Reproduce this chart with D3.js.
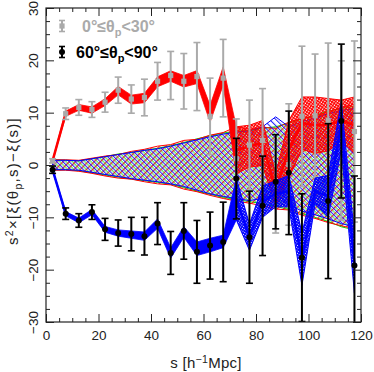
<!DOCTYPE html>
<html><head><meta charset="utf-8">
<script src="https://cdn.jsdelivr.net/npm/d3@7"></script>
<style>body{margin:0;background:#fff}svg{display:block}</style>
</head><body>
<script>
// ---- data ----
const sBins = [2.5,7.5,12.5,17.5,22.5,27.5,32.5,37.5,42.5,47.5,52.5,57.5,62.5,67.5,72.5,77.5,82.5,87.5,92.5,97.5,102.5,107.5,112.5,117.5];
// 0°≤θp<30° measurements (gray)
const grayY   = [0.8,9.8,11.0,10.6,12.0,14.3,12.6,12.9,16.0,17.1,16.0,16.9,9.3,16.6,1.2,3.8,4.7,-4.1,0.1,9.3,9.4,8.5,4.7,6.4];
const grayErr = [0.4,1.1,1.5,1.5,1.9,2.5,2.7,3.5,3.6,4.6,5.3,6.5,7.3,7.4,7.6,8.6,9.9,8.9,11.6,13.4,11.8,14.8,15.2,17.3];
// 60°≤θp<90° measurements (black)
const blackY   = [-0.9,-9.3,-10.6,-9.0,-12.3,-13.0,-13.2,-13.6,-11.2,-16.8,-12.6,-16.6,-15.4,-14.7,-2.6,-13.8,-7.8,-3.2,-1.5,-17.7,null,-6.9,8.4,-19.2];
const blackErr = [0.7,1.1,1.3,1.4,2.1,2.5,3.2,3.6,4.0,4.1,5.4,6.0,6.4,7.6,7.7,8.8,9.5,9.0,11.8,12.2,null,14.8,14.7,17.1];
// model bands (red: 0-30°, blue: 60-90°)
const redMid  = [0.8,9.8,11.0,10.5,12.0,14.2,12.5,12.8,15.9,17.0,16.0,16.8,9.8,17.0,2.8,3.6,4.2,-4.8,3.0,8.0,7.6,7.7,8.5,7.6];
const redHalf = [0.15,0.5,0.55,0.6,0.65,0.8,0.85,0.9,0.95,1.0,1.1,1.25,1.6,1.75,4.5,4.0,4.3,3.0,5.5,5.0,5.4,5.0,3.9,5.4];
const blueMid  = [-0.9,-9.3,-10.6,-9.0,-12.3,-13.0,-13.3,-13.6,-11.2,-16.8,-12.8,-16.0,-15.3,-14.6,-6.5,-13.8,-7.0,-5.5,-5.0,-18.0,-5.0,-6.0,7.5,-19.0];
const blueHalf = [0.15,0.4,0.45,0.5,0.55,0.6,0.7,0.8,0.9,1.0,1.0,1.3,1.3,1.2,4.0,2.5,3.0,2.5,3.0,5.0,2.5,4.0,4.5,5.5];
// null-test hatched bands
const nullGreenUp = [1.0,0.9,0.8,1.2,1.6,2.1,2.4,2.8,3.2,3.7,4.3,5.0,5.6,6.1,6.5,6.6,7.0,7.3,8.0,8.8,9.5,10.3,10.8,11.2];
const nullGreenLo = [-0.9,-0.9,-1.1,-1.5,-1.9,-2.3,-2.7,-3.0,-3.3,-3.7,-4.3,-5.0,-5.6,-6.2,-6.6,-7.0,-7.4,-7.9,-8.5,-9.3,-10.0,-10.8,-11.8,-12.4];
const nullRedUp = [1.0,1.0,0.9,1.3,1.7,2.0,2.6,3.0,3.6,3.9,4.7,4.9,5.7,6.2,7.3,6.8,7.2,7.0,8.2,8.9,9.3,10.1,11.0,11.6];
const nullRedLo = [-1.0,-1.0,-1.2,-1.6,-2.1,-2.5,-2.7,-3.2,-3.6,-3.8,-4.6,-5.1,-5.8,-6.4,-6.9,-7.3,-7.8,-8.4,-8.6,-9.6,-10.2,-11.0,-11.6,-12.2];
const nullBlueUp = [0.9,0.9,0.8,1.2,1.6,2.0,2.4,2.8,3.1,3.6,4.2,4.8,5.4,5.9,6.3,6.5,7.3,9.2,7.3,8.3,9.0,9.8,10.4,10.8];
const nullBlueLo = [-0.9,-0.9,-1.0,-1.4,-1.8,-2.2,-2.6,-2.9,-3.2,-3.6,-4.1,-4.8,-5.5,-6.0,-6.4,-6.8,-6.4,-5.5,-7.6,-8.8,-9.5,-10.3,-11.2,-11.8];
const xTicks = [0,20,40,60,80,100,120];
const yTicks = [-30,-20,-10,0,10,20,30];
const legendLabels = [["0°≤θ","p","<30°"],["60°≤θ","p","<90°"]];

// ---- drawing ----
const W = 374, H = 372;
const L = 46, R = 361, T = 8, B = 322;
const x = d3.scaleLinear().domain([0,120]).range([L,R]);
const y = d3.scaleLinear().domain([-30,30]).range([B,T]);
const GRAY = "#aaaaaa";
const FONT = "'Liberation Sans', Arial, Helvetica, sans-serif";

const svg = d3.select("body").append("svg").attr("width",W).attr("height",H);
const defs = svg.append("defs");
defs.append("clipPath").attr("id","plotclip").append("rect")
  .attr("x",L).attr("y",T).attr("width",R-L).attr("height",B-T);

function hatch(id, color, angle, size, off, sw){
  const p = defs.append("pattern").attr("id",id).attr("patternUnits","userSpaceOnUse")
    .attr("width",size).attr("height",size).attr("patternTransform",`rotate(${angle})`);
  p.append("line").attr("x1",off).attr("x2",off).attr("y1",0).attr("y2",size)
    .attr("stroke",color).attr("stroke-width",sw);
}
hatch("hG","#00e000",-45,4.4,2.8,0.8);
hatch("hR","#ff0000",45,4.4,0.6,0.9);
hatch("hB","#0000ff",-45,4.4,0.6,0.9);
function cross(id,color,size,sw){
  const p = defs.append("pattern").attr("id",id).attr("patternUnits","userSpaceOnUse")
    .attr("width",size).attr("height",size).attr("patternTransform","rotate(35)");
  p.append("line").attr("x1",0.6).attr("x2",0.6).attr("y1",0).attr("y2",size).attr("stroke",color).attr("stroke-width",sw);
  p.append("line").attr("y1",0.6).attr("y2",0.6).attr("x1",0).attr("x2",size).attr("stroke",color).attr("stroke-width",sw);
}
cross("xR","#ff0000",2.5,1.2);
cross("xB","#0000ff",2.2,1.3);

const plot = svg.append("g").attr("clip-path","url(#plotclip)");

// null hatched bands
const idx = d3.range(sBins.length);
function nullBand(up, lo, pat, color){
  const a = d3.area().x(i=>x(sBins[i])).y0(i=>y(lo[i])).y1(i=>y(up[i]));
  plot.append("path").attr("d",a(idx)).attr("fill",`url(#${pat})`)
    .attr("stroke",color).attr("stroke-width",1).attr("stroke-linejoin","round");
}
nullBand(nullGreenUp,nullGreenLo,"hG","#00e000");
nullBand(nullRedUp,nullRedLo,"hR","#ff0000");
nullBand(nullBlueUp,nullBlueLo,"hB","#0000ff");

// model bands
function modelBand(mid, half, color, pat, split){
  const a = d3.area().x(i=>x(sBins[i])).y0(i=>y(mid[i]-half[i])).y1(i=>y(mid[i]+half[i]));
  plot.append("path").attr("d",a(idx.filter(i=>i>=split))).attr("fill",`url(#${pat})`)
    .attr("stroke",color).attr("stroke-width",1);
  plot.append("path").attr("d",a(idx.filter(i=>i<=split))).attr("fill",color)
    .attr("stroke",color).attr("stroke-width",0.8);
  const ln = d3.line().x(i=>x(sBins[i])).y(i=>y(mid[i]));
  plot.append("path").attr("d",ln(idx)).attr("fill","none").attr("stroke",color).attr("stroke-width",2.5);
}

function errorBars(vals, errs, color, marker){
  const g = plot.append("g");
  idx.forEach(i=>{
    if(vals[i]==null) return;
    const cx = x(sBins[i]), y0 = y(vals[i]-errs[i]), y1 = y(vals[i]+errs[i]);
    g.append("line").attr("x1",cx).attr("x2",cx).attr("y1",y0).attr("y2",y1).attr("stroke",color).attr("stroke-width",2);
    [y0,y1].forEach(yy=>g.append("line").attr("x1",cx-3.5).attr("x2",cx+3.5).attr("y1",yy).attr("y2",yy).attr("stroke",color).attr("stroke-width",1.6));
    if(marker==="square") g.append("rect").attr("x",cx-2.6).attr("y",y(vals[i])-2.6).attr("width",5.2).attr("height",5.2).attr("fill",color);
    else g.append("circle").attr("cx",cx).attr("cy",y(vals[i])).attr("r",3).attr("fill",color);
  });
}

modelBand(redMid, redHalf, "#ff0000", "xR", 14);
errorBars(grayY, grayErr, GRAY, "square");
modelBand(blueMid, blueHalf, "#0000ff", "xB", 14);
errorBars(blackY, blackErr, "#000", "circle");

// axes
const axG = svg.append("g").attr("font-family",FONT);
function styleAxis(g){ g.select(".domain").remove(); g.selectAll("line").attr("stroke","#222"); g.selectAll("text").attr("fill","#222").attr("font-size",13.5).attr("font-family",FONT); }
axG.append("g").attr("transform",`translate(0,${B})`)
  .call(d3.axisBottom(x).tickValues(xTicks).tickSize(-8).tickSizeOuter(0).tickPadding(8).tickFormat(d3.format("d"))).call(styleAxis);
axG.append("g").attr("transform",`translate(0,${B})`)
  .call(d3.axisBottom(x).tickValues(d3.range(0,121,5).filter(v=>v%20)).tickSize(-4).tickFormat("")).call(styleAxis);
axG.append("g").attr("transform",`translate(0,${T})`)
  .call(d3.axisTop(x).tickValues(xTicks).tickSize(-8).tickFormat("")).call(styleAxis);
axG.append("g").attr("transform",`translate(0,${T})`)
  .call(d3.axisTop(x).tickValues(d3.range(0,121,5).filter(v=>v%20)).tickSize(-4).tickFormat("")).call(styleAxis);
const yl = axG.append("g").attr("transform",`translate(${L},0)`)
  .call(d3.axisLeft(y).tickValues(yTicks).tickSize(-8).tickFormat(d=>d<0?"\u2212"+Math.abs(d):d)).call(styleAxis);
yl.selectAll("text").attr("x",0).attr("dy",null).attr("y",-8.5).attr("text-anchor","middle").attr("transform","rotate(-90)");
axG.append("g").attr("transform",`translate(${L},0)`)
  .call(d3.axisLeft(y).tickValues(d3.range(-30,30.1,2.5).filter(v=>v%10)).tickSize(-4).tickFormat("")).call(styleAxis);
axG.append("g").attr("transform",`translate(${R},0)`)
  .call(d3.axisRight(y).tickValues(yTicks).tickSize(-8).tickFormat("")).call(styleAxis);
axG.append("g").attr("transform",`translate(${R},0)`)
  .call(d3.axisRight(y).tickValues(d3.range(-30,30.1,2.5).filter(v=>v%10)).tickSize(-4).tickFormat("")).call(styleAxis);
svg.append("rect").attr("x",L).attr("y",T).attr("width",R-L).attr("height",B-T)
  .attr("fill","none").attr("stroke","#222").attr("stroke-width",1.2);

// axis titles
const xt = svg.append("text").attr("x",206).attr("y",368).attr("text-anchor","middle")
  .attr("font-family",FONT).attr("font-size",15).attr("fill","#222").attr("letter-spacing",0.3);
xt.append("tspan").text("s  [h");
xt.append("tspan").attr("dy",-5.5).attr("font-size",10.5).text("\u22121");
xt.append("tspan").attr("dy",5.5).text("Mpc]");

const yt = svg.append("text").attr("transform","translate(18,181) rotate(-90)").attr("text-anchor","middle")
  .attr("font-family",FONT).attr("font-size",15).attr("fill","#222").attr("letter-spacing",1.3);
yt.append("tspan").text("s");
yt.append("tspan").attr("dy",-5.5).attr("font-size",10.5).text("2");
yt.append("tspan").attr("dy",5.5).text("\u00d7[\u03be(\u03b8");
yt.append("tspan").attr("dy",3.5).attr("font-size",10.5).text("p");
yt.append("tspan").attr("dy",-3.5).text(",s)\u2212\u03be(s)]");

// legend
const legColors = [GRAY,"#000"];
const legY = [26,52];
const legTx = [82,76];
legendLabels.forEach((lab,k)=>{
  const cy = legY[k], cx = 62;
  svg.append("line").attr("x1",cx).attr("x2",cx).attr("y1",cy-5.5).attr("y2",cy+5.5).attr("stroke",legColors[k]).attr("stroke-width",2);
  [cy-5.5,cy+5.5].forEach(yy=>svg.append("line").attr("x1",cx-3).attr("x2",cx+3).attr("y1",yy).attr("y2",yy).attr("stroke",legColors[k]).attr("stroke-width",1.6));
  if(k===0) svg.append("rect").attr("x",cx-2.6).attr("y",cy-2.6).attr("width",5.2).attr("height",5.2).attr("fill",legColors[k]);
  else svg.append("circle").attr("cx",cx).attr("cy",cy).attr("r",3).attr("fill",legColors[k]);
  const t = svg.append("text").attr("x",legTx[k]).attr("y",cy+6).attr("font-family",FONT)
    .attr("font-size",16).attr("font-weight","bold").attr("fill",legColors[k]);
  t.append("tspan").text(lab[0]);
  t.append("tspan").attr("dy",3.5).attr("font-size",11).text(lab[1]);
  t.append("tspan").attr("dy",-3.5).text(lab[2]);
});
</script>
</body></html>
